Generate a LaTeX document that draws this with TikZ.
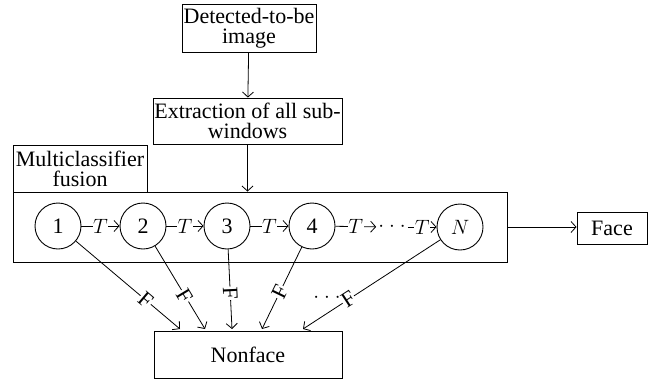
\documentclass[tikz,border=0pt]{standalone}
\usepackage{fontspec}
\setmainfont{Liberation Serif}
\usetikzlibrary{arrows.meta}
\newcommand{\widedots}{$\cdot$\hspace{5pt}$\cdot$\hspace{5pt}$\cdot$}
\begin{document}
\begin{tikzpicture}[x=1pt,y=-1pt,
  font=\fontsize{22}{20}\selectfont,
  box/.style={draw,line width=0.9pt,inner sep=0pt,align=center},
  circ/.style={draw,circle,line width=0.9pt,minimum size=46pt,inner sep=0pt},
  arr/.style={line width=0.8pt,-{Straight Barb[length=5pt,width=11pt,line width=0.8pt]}},
  lab/.style={fill=white,inner sep=0.5pt},
  flab/.style={fill=white,inner sep=0.5pt,sloped}]
\useasboundingbox (0,0) rectangle (652,380);
\node[box,minimum width=134pt,minimum height=48pt] (det) at (249,28) {Detected-to-be\\image};
\node[box,minimum width=189pt,minimum height=46pt] (ext) at (247.5,121) {Extraction of all sub-\\windows};
\node[box,minimum width=134pt,minimum height=47pt] (mcf) at (80,168.5) {Multiclassifier\\fusion};
\node[box,minimum width=494pt,minimum height=70pt] (big) at (260,227) {};
\node[circ] (c1) at (58,226) {1};
\node[circ] (c2) at (143,226) {2};
\node[circ] (c3) at (227,226) {3};
\node[circ] (c4) at (312,226) {4};
\node[inner sep=2pt] (dots) at (392,227) {\widedots};
\node[circ] (cN) at (460,227) {$N$};
\node[box,minimum width=70pt,minimum height=32pt] (face) at (612,228) {Face};
\node[box,minimum width=188pt,minimum height=47pt] (nonface) at (248,354.5) {Nonface};
\node (dots2) at (327,298) {\widedots};
\coordinate (e1) at (180,329);
\coordinate (e2) at (205,329);
\coordinate (e3) at (232,329);
\coordinate (e4) at (262,329);
\coordinate (e5) at (303,329);
\draw[arr] (det) -- (ext);
\draw[arr] (ext.south) -- (ext.south |- big.north);
\draw[arr] (big.east) -- (big.east -| face.west);
\draw[arr] (c1) -- node[lab]{$T$} (c2);
\draw[arr] (c2) -- node[lab]{$T$} (c3);
\draw[arr] (c3) -- node[lab]{$T$} (c4);
\draw[arr] (c4) -- node[lab]{$T$} (dots);
\draw[arr] (dots) -- node[lab]{$T$} (cN);
\draw[arr] (c1) -- node[flab,pos=0.67]{F} (e1);
\draw[arr] (c2) -- node[flab,pos=0.6]{F} (e2);
\draw[arr] (c3) -- node[flab,pos=0.55]{F} (e3);
\draw[arr] (c4) -- node[flab,pos=0.55]{F} (e4);
\draw[arr] (cN) -- node[flab,pos=0.67]{F} (e5);
\end{tikzpicture}
\end{document}
